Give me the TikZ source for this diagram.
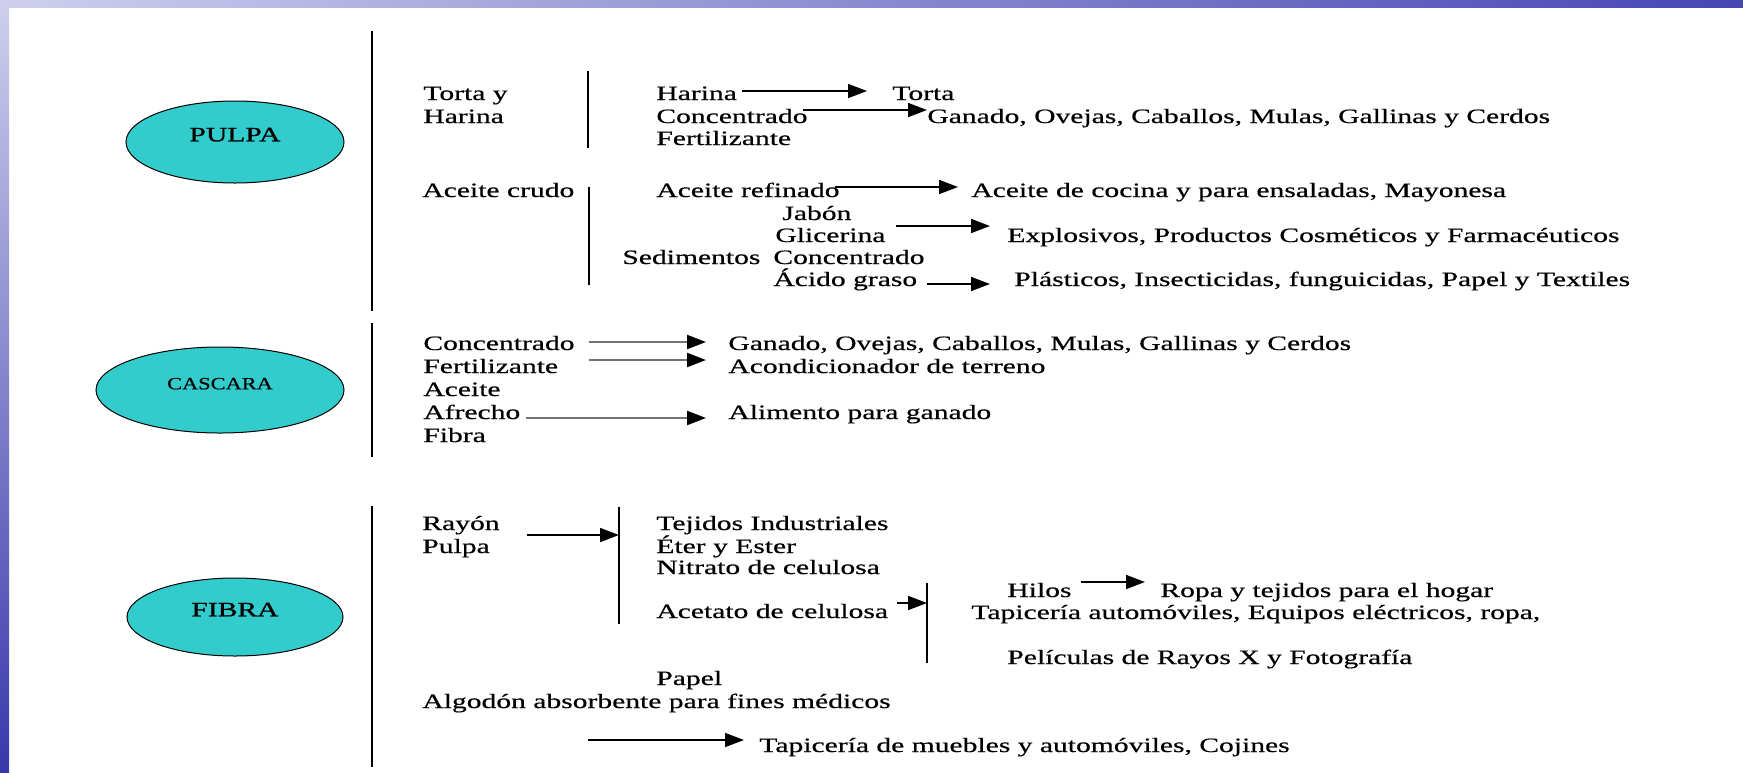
\documentclass[tikz,border=0pt]{standalone}
\usepackage{fontspec}
\setmainfont{Liberation Serif}[FakeStretch=1.45,FakeBold=0.5]
\newfontfamily\casfont{Liberation Serif}[FakeStretch=1.3,FakeBold=0.5]
\newfontfamily\bubfont{Liberation Serif}[FakeStretch=1.45,FakeBold=1.1]
\usetikzlibrary{shapes.geometric,arrows.meta}
\definecolor{turq}{HTML}{33CCCC}
\definecolor{bandA}{HTML}{CFCFEC}
\definecolor{bandB}{HTML}{8484D0}
\definecolor{bandC}{HTML}{4646B4}
\definecolor{sideB}{HTML}{7474C6}
\definecolor{sideC}{HTML}{3838AC}
\begin{document}
\begin{tikzpicture}[x=0.5pt,y=-0.5pt,
  txt/.style={anchor=base west,inner sep=0pt,font=\fontsize{10.2}{12}\selectfont},
  bubble/.style={ellipse,draw=black,line width=0.5pt,fill=turq,inner sep=0pt,
    text height=6.8pt,text depth=7.5pt,font=\bubfont\fontsize{10.2}{12}\selectfont},
  arr/.style={line width=0.85pt,-{Triangle[length=9.5pt,width=7pt]}},
  garr/.style={draw=black!55,line width=1.1pt,-{Triangle[length=9.5pt,width=7pt,color=black]}},
  bar/.style={line width=1.3pt}]
\useasboundingbox (0,0) rectangle (1743,772);
\fill[white] (0,0) rectangle (1743,772);
\shade[left color=bandA,middle color=bandB,right color=bandC] (0,0) rectangle (1743,7);
\shade[top color=bandA,middle color=sideB,bottom color=sideC] (0,0) rectangle (9,772);

% ellipses
\node[bubble,minimum width=109pt,minimum height=41pt] (pulpa) at (235,142) {PULPA};
\node[bubble,minimum width=124pt,minimum height=43pt,font=\casfont\fontsize{8.6}{10}\selectfont] (cascara) at (220,390) {CASCARA};
\node[bubble,minimum width=108pt,minimum height=39pt] (fibra) at (235,617) {FIBRA};

% main bars
\coordinate (m1t) at (372,31); \coordinate (m1b) at (372,311);
\coordinate (m2t) at (372,323); \coordinate (m2b) at (372,457);
\coordinate (m3t) at (372,506); \coordinate (m3b) at (372,767);
\draw[bar] (m1t) -- (m1b);
\draw[bar] (m2t) -- (m2b);
\draw[bar] (m3t) -- (m3b);

% ---------------- PULPA ----------------
\node[txt] (tyh1) at (423,100) {Torta y};
\node[txt] (tyh2) at (423,123) {Harina};
\coordinate (s1t) at (588,71); \coordinate (s1b) at (588,148);
\draw[bar] (s1t) -- (s1b);
\node[txt] (harina) at (656,100) {Harina};
\node[txt] (torta) at (892,100) {Torta};
\node[txt] (conc1) at (656,123) {Concentrado};
\node[txt] (gan1) at (927,123) {Ganado, Ovejas, Caballos, Mulas, Gallinas y Cerdos};
\node[txt] (fert1) at (656,145) {Fertilizante};
\coordinate (a1s) at (742,91); \coordinate (a1e) at (867,91);
\coordinate (a2s) at (803,110); \coordinate (a2e) at (927,110);
\draw[arr] (a1s) -- (a1e);
\draw[arr] (a2s) -- (a2e);

\node[txt] (crudo) at (422,197) {Aceite crudo};
\coordinate (s2t) at (589,187); \coordinate (s2b) at (589,285);
\draw[bar] (s2t) -- (s2b);
\node[txt] (refin) at (656,197) {Aceite refinado};
\node[txt] (cocina) at (971,197) {Aceite de cocina y para ensaladas, Mayonesa};
\node[txt] (jabon) at (782,220) {Jabón};
\node[txt] (glic) at (775,242) {Glicerina};
\node[txt] (explo) at (1007,242) {Explosivos, Productos Cosméticos y Farmacéuticos};
\node[txt] (sedi) at (622,264) {Sedimentos};
\node[txt] (conc2) at (773,264) {Concentrado};
\node[txt] (acido) at (773,286) {Ácido graso};
\node[txt] (plast) at (1014,286) {Plásticos, Insecticidas, funguicidas, Papel y Textiles};
\coordinate (a3s) at (835,187); \coordinate (a3e) at (958,187);
\coordinate (a4s) at (896,226); \coordinate (a4e) at (990,226);
\coordinate (a5s) at (927,284); \coordinate (a5e) at (990,284);
\draw[arr] (a3s) -- (a3e);
\draw[arr] (a4s) -- (a4e);
\draw[arr] (a5s) -- (a5e);

% ---------------- CASCARA ----------------
\node[txt] (cconc) at (423,350) {Concentrado};
\node[txt] (cgan) at (728,350) {Ganado, Ovejas, Caballos, Mulas, Gallinas y Cerdos};
\node[txt] (cfert) at (423,373) {Fertilizante};
\node[txt] (cacon) at (728,373) {Acondicionador de terreno};
\node[txt] (cacei) at (423,396) {Aceite};
\node[txt] (cafre) at (423,419) {Afrecho};
\node[txt] (calim) at (728,419) {Alimento para ganado};
\node[txt] (cfib) at (423,442) {Fibra};
\coordinate (c1s) at (589,342); \coordinate (c1e) at (706,342);
\coordinate (c2s) at (589,360); \coordinate (c2e) at (706,360);
\coordinate (c3s) at (526,418); \coordinate (c3e) at (706,418);
\draw[garr] (c1s) -- (c1e);
\draw[garr] (c2s) -- (c2e);
\draw[garr] (c3s) -- (c3e);

% ---------------- FIBRA ----------------
\node[txt] (rayon) at (422,530) {Rayón};
\node[txt] (fpulpa) at (422,553) {Pulpa};
\coordinate (s3t) at (619,507); \coordinate (s3b) at (619,624);
\draw[bar] (s3t) -- (s3b);
\coordinate (f1s) at (527,535); \coordinate (f1e) at (s3t |- f1s);
\draw[arr] (f1s) -- (f1e);
\node[txt] (tejid) at (656,530) {Tejidos Industriales};
\node[txt] (eter) at (656,553) {Éter y Ester};
\node[txt] (nitr) at (656,574) {Nitrato de celulosa};
\node[txt] (acet) at (656,618) {Acetato de celulosa};
\coordinate (s4t) at (927,583); \coordinate (s4b) at (927,663);
\draw[bar] (s4t) -- (s4b);
\coordinate (f2s) at (897,603); \coordinate (f2e) at (s4t |- f2s);
\draw[arr] (f2s) -- (f2e);
\node[txt] (hilos) at (1007,597) {Hilos};
\node[txt] (ropa) at (1160,597) {Ropa y tejidos para el hogar};
\coordinate (f3s) at (1081,582); \coordinate (f3e) at (1145,582);
\draw[arr] (f3s) -- (f3e);
\node[txt] (tapauto) at (971,619) {Tapicería automóviles, Equipos eléctricos, ropa,};
\node[txt] (pelic) at (1007,664) {Películas de Rayos X y Fotografía};
\node[txt] (papel) at (656,685) {Papel};
\node[txt] (algod) at (422,708) {Algodón absorbente para fines médicos};
\node[txt] (tapmueb) at (759,752) {Tapicería de muebles y automóviles, Cojines};
\coordinate (f4s) at (588,740); \coordinate (f4e) at (744,740);
\draw[arr] (f4s) -- (f4e);
\end{tikzpicture}
\end{document}
